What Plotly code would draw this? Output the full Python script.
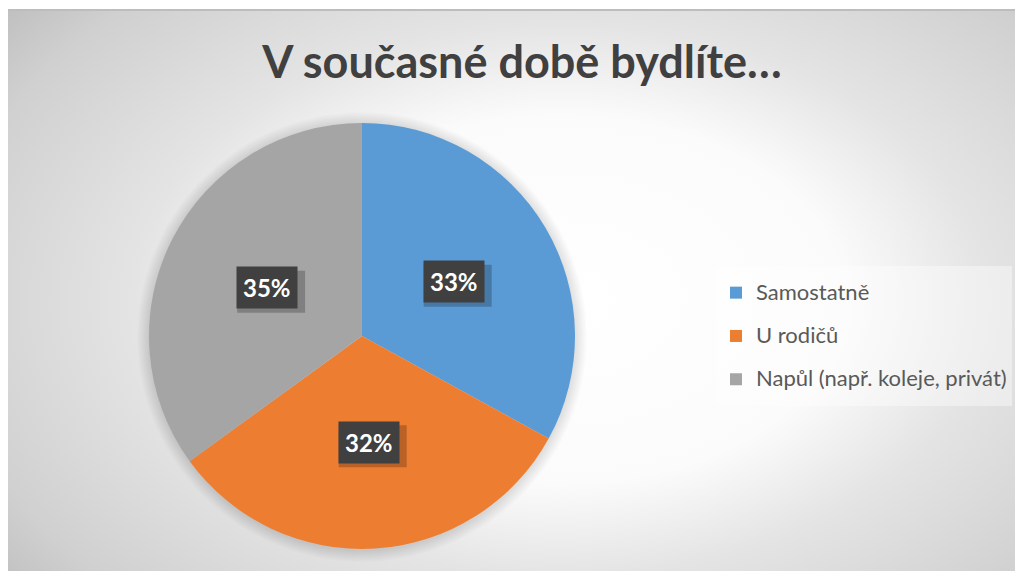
import numpy as np
import plotly.graph_objects as go

# ── data ──────────────────────────────────────────────────────────────────────
title = "V současné době bydlíte…"
labels = ["Samostatně", "U rodičů", "Napůl (např. koleje, privát)"]
values = [33, 32, 35]
colors = ["#5b9bd5", "#ed7d31", "#a5a5a5"]

# ── layout constants (pixels of the target picture) ──────────────────────────
W, H = 1023, 571
OFF = 8                             # page body margin
CX, CY, R = 362, 336, 213           # pie centre / radius
FONT = "Lato"


def fx(px):
    return (px - OFF) / W


def fy(py):
    return 1 - (py - OFF) / H


frac = np.array(values) / sum(values)
mid = (np.cumsum(frac) - frac / 2) * 2 * np.pi   # clockwise from 12 o'clock
lab_x = CX + 0.5 * R * np.sin(mid)
lab_y = CY - 0.5 * R * np.cos(mid)
pct = [f"{round(f * 100)}%" for f in frac]

fig = go.Figure()

# background: radial grey gradient
fig.add_trace(go.Scatter(
    x=[-150, 1270, 1270, -150, -150], y=[-160, -160, 760, 760, -160],
    mode="lines", fill="toself", line=dict(width=0),
    fillgradient=dict(type="radial", colorscale=[
        [0, "#ffffff"], [0.4, "#fbfbfb"], [0.6, "#e4e4e4"],
        [0.88, "#d0d0d0"], [1, "#c0c0c0"]]),
    hoverinfo="skip", showlegend=False,
))
# white page margin on top/left + thin frame line
fig.add_trace(go.Scatter(
    x=[-10, 1100, 1100, 7, 7, -10, -10], y=[-10, -10, 10, 10, 600, 600, -10],
    mode="lines", fill="toself", fillcolor="white", line=dict(width=0),
    hoverinfo="skip", showlegend=False,
))
fig.add_trace(go.Scatter(
    x=[7, 7, 1100], y=[600, 10, 10], mode="lines",
    line=dict(color="#bdbdbd", width=2),
    hoverinfo="skip", showlegend=False,
))

# soft shadow around the pie
t = np.linspace(0, 2 * np.pi, 200)
for k in range(1, 11):
    rr = R + k * 1.2
    fig.add_trace(go.Scatter(
        x=CX + rr * np.cos(t), y=CY + 1 + rr * np.sin(t),
        mode="lines", fill="toself", fillcolor="rgba(0,0,0,0.013)",
        line=dict(width=0), hoverinfo="skip", showlegend=False,
    ))

fig.add_trace(go.Pie(
    labels=[f'<span style="font-size:22px;baseline-shift:5px">{l}</span>' for l in labels],
    values=values,
    marker=dict(colors=colors, line=dict(width=0)),
    sort=False, direction="clockwise", rotation=0,
    textinfo="none", hoverinfo="label+percent",
    domain=dict(x=[fx(CX - R), fx(CX + R)], y=[fy(CY + R), fy(CY - R)]),
))

# data label boxes with drop shadow
for x, y, txt in zip(lab_x, lab_y, pct):
    fig.add_shape(
        type="rect", xref="x", yref="y", layer="above",
        x0=x - 30, x1=x + 38, y0=y - 17, y1=y + 25,
        fillcolor="rgba(0,0,0,0.22)", line=dict(width=0),
    )
    fig.add_annotation(
        x=x, y=y, xref="x", yref="y", showarrow=False,
        text=f"<b>{txt}</b>", font=dict(family=FONT, size=24, color="white"),
        bgcolor="#404040", borderpad=6,
    )

fig.update_layout(
    width=W, height=H,
    margin=dict(l=0, r=0, t=0, b=0),
    paper_bgcolor="white", plot_bgcolor="rgba(0,0,0,0)",
    title=dict(text=f"<b>{title}</b>", x=fx(522), xanchor="center",
               y=fy(62), yanchor="middle",
               font=dict(family=FONT, size=45, color="#404040")),
    xaxis=dict(range=[OFF, W + OFF], visible=False, fixedrange=True),
    yaxis=dict(range=[H + OFF, OFF], visible=False, fixedrange=True),
    legend=dict(x=fx(716), y=fy(266), xanchor="left", yanchor="top",
                bgcolor="rgba(255,255,255,0.4)", itemwidth=30,
                font=dict(family=FONT, size=31, color="#595959")),
    showlegend=True,
)

fig.write_html("out.html")
